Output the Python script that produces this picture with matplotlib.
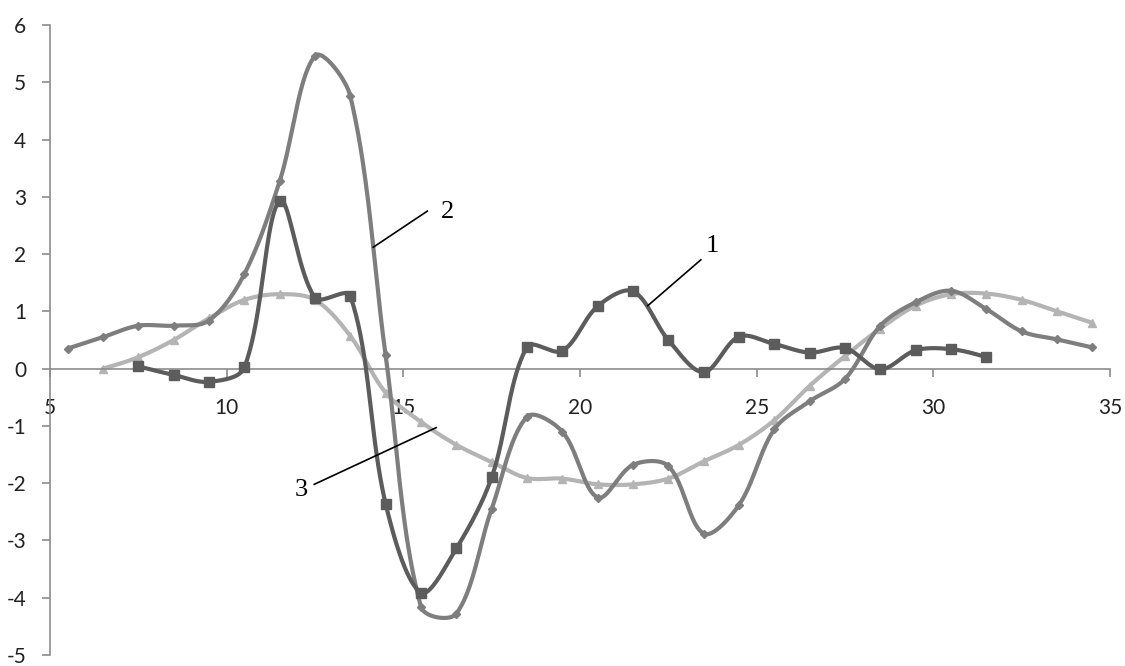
import numpy as np
import matplotlib
matplotlib.use("Agg")
import matplotlib.pyplot as plt

plt.rcParams["axes.unicode_minus"] = False

# series 1 (squares)
x1 = [7.5, 8.5, 9.5, 10.5, 11.5, 12.5, 13.5, 14.5, 15.5, 16.5, 17.5, 18.5, 19.5,
      20.5, 21.5, 22.5, 23.5, 24.5, 25.5, 26.5, 27.5, 28.5, 29.5, 30.5, 31.5]
y1 = [0.04, -0.11, -0.23, 0.02, 2.93, 1.24, 1.27, -2.36, -3.91, -3.14, -1.9, 0.38, 0.31,
      1.09, 1.35, 0.5, -0.06, 0.56, 0.43, 0.28, 0.36, -0.01, 0.32, 0.34, 0.2]

# series 2 (diamonds)
x2 = [5.5, 6.5, 7.5, 8.5, 9.5, 10.5, 11.5, 12.5, 13.5, 14.5, 15.5, 16.5, 17.5, 18.5, 19.5,
      20.5, 21.5, 22.5, 23.5, 24.5, 25.5, 26.5, 27.5, 28.5, 29.5, 30.5, 31.5, 32.5, 33.5, 34.5]
y2 = [0.35, 0.55, 0.75, 0.75, 0.84, 1.65, 3.27, 5.46, 4.76, 0.23, -4.16, -4.28, -2.45, -0.84, -1.1,
      -2.25, -1.68, -1.7, -2.88, -2.38, -1.06, -0.57, -0.18, 0.75, 1.16, 1.36, 1.04, 0.65, 0.51, 0.37]

# series 3 (triangles)
x3 = [6.5, 7.5, 8.5, 9.5, 10.5, 11.5, 12.5, 13.5, 14.5, 15.5, 16.5, 17.5, 18.5, 19.5, 20.5,
      21.5, 22.5, 23.5, 24.5, 25.5, 26.5, 27.5, 28.5, 29.5, 30.5, 31.5, 32.5, 33.5, 34.5]
y3 = [0.0, 0.2, 0.5, 0.88, 1.2, 1.3, 1.2, 0.57, -0.42, -0.93, -1.33, -1.63, -1.91, -1.92, -2.02,
      -2.02, -1.92, -1.62, -1.33, -0.9, -0.3, 0.22, 0.7, 1.1, 1.3, 1.31, 1.2, 1.0, 0.8]

# rough pixel size of one unit, used so the smoothing works in screen space
SX, SY = 35.4, 57.3


def smooth(xs, ys, n=40):
    # excel-like smoothed line: bezier handles scaled by neighbouring segment lengths
    p = np.column_stack([np.array(xs) * SX, np.array(ys) * SY]).astype(float)
    m = len(p)
    cin = p.copy()
    cout = p.copy()
    for i in range(1, m - 1):
        t = p[i + 1] - p[i - 1]
        d0 = np.linalg.norm(p[i] - p[i - 1])
        d1 = np.linalg.norm(p[i + 1] - p[i])
        s = d0 + d1
        cin[i] = p[i] - t * d0 / s / 3
        cout[i] = p[i] + t * d1 / s / 3
    # end points
    cout[0] = p[0] + (cin[1] - p[0]) / 2 if m > 2 else p[0]
    cin[-1] = p[-1] + (cout[-2] - p[-1]) / 2 if m > 2 else p[-1]
    pts = []
    tt = np.linspace(0, 1, n)[:, None]
    for i in range(m - 1):
        a, b, c, d = p[i], cout[i], cin[i + 1], p[i + 1]
        seg = (1 - tt) ** 3 * a + 3 * (1 - tt) ** 2 * tt * b + 3 * (1 - tt) * tt ** 2 * c + tt ** 3 * d
        pts.append(seg)
    pts = np.vstack(pts)
    return pts[:, 0] / SX, pts[:, 1] / SY


fig = plt.figure(figsize=(11.25, 6.66), dpi=100)
ax = fig.add_axes([0.0444, 0.0165, 0.9423, 0.946])

c1, c2, c3 = "#5c5c5c", "#7e7e7e", "#b4b4b4"

sx, sy = smooth(x3, y3)
ax.plot(sx, sy, color=c3, lw=3, zorder=2, solid_capstyle="round")
ax.plot(x3, y3, ls="none", marker="^", ms=6, color=c3, zorder=2)

sx, sy = smooth(x2, y2)
ax.plot(sx, sy, color=c2, lw=3, zorder=3, solid_capstyle="round")
ax.plot(x2, y2, ls="none", marker="D", ms=4, color=c2, zorder=3)

sx, sy = smooth(x1, y1)
ax.plot(sx, sy, color=c1, lw=3, zorder=4, solid_capstyle="round")
ax.plot(x1, y1, ls="none", marker="s", ms=7, color=c1, zorder=4)

ax.set_xlim(5, 35)
ax.set_ylim(-5, 6)
ax.set_xticks([5, 10, 15, 20, 25, 30, 35])
ax.set_yticks(range(-5, 7))

ax.spines["top"].set_visible(False)
ax.spines["right"].set_visible(False)
ax.spines["bottom"].set_position(("data", 0))
for s in ["left", "bottom"]:
    ax.spines[s].set_color("#8c8c8c")
    ax.spines[s].set_linewidth(1.2)
ax.tick_params(axis="both", colors="#8c8c8c", length=6, width=1.2, direction="out",
               labelsize=15, labelcolor="#222222")
for lab in ax.get_xticklabels() + ax.get_yticklabels():
    lab.set_family("Lato")
ax.tick_params(axis="x", pad=15)
ax.tick_params(axis="y", pad=11)

# labels for the curves
serif = "Liberation Serif"
ax.plot([14.15, 15.68], [2.12, 2.75], color="black", lw=1.2, zorder=5)
ax.text(16.25, 2.73, "2", fontsize=19, family=serif, ha="center", va="center")
ax.plot([21.92, 23.42], [1.10, 1.90], color="black", lw=1.2, zorder=5)
ax.text(23.73, 2.14, "1", fontsize=19, family=serif, ha="center", va="center")
ax.plot([12.48, 15.93], [-2.02, -1.03], color="black", lw=1.2, zorder=5)
ax.text(12.1, -2.12, "3", fontsize=19, family=serif, ha="center", va="center")

fig.savefig("out.png", dpi=100)
